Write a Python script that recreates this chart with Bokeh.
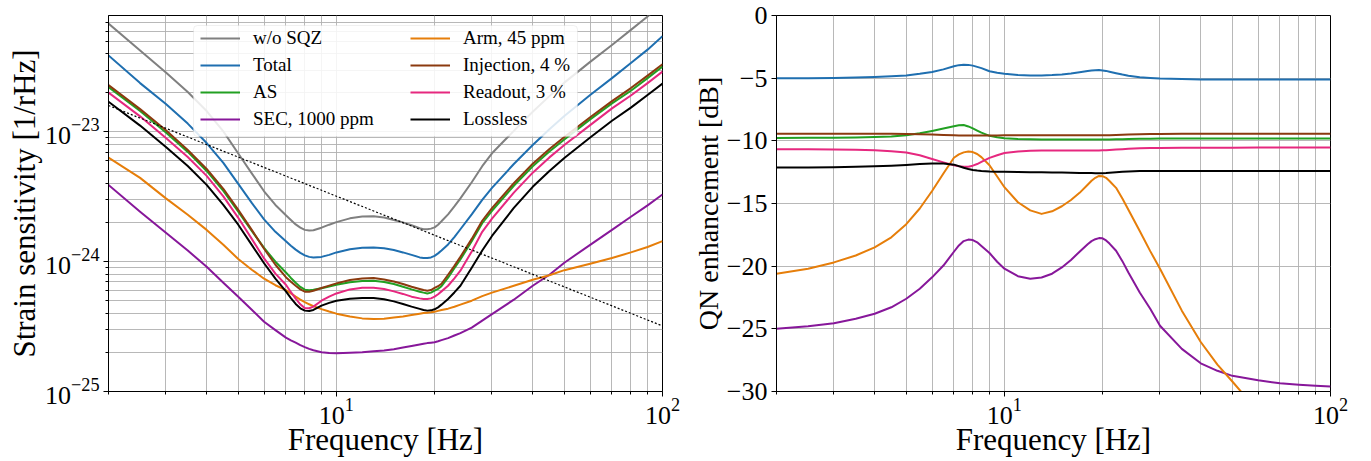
from bokeh.plotting import figure
from bokeh.models import (FixedTicker, LogTickFormatter, Legend, LegendItem,
                          BoxAnnotation, Range1d, CustomJSTickFormatter)
from bokeh.layouts import row
from bokeh.embed import file_html
from bokeh.resources import INLINE

nan = float("nan")
FONT = "Liberation Serif"

# ---------------- data ----------------
freq = [2, 2.5, 3, 3.5, 4, 4.5, 5, 5.5, 6, 6.5, 7,
        7.25, 7.5, 7.75, 8, 8.25, 8.5, 9, 9.5, 10,
        11, 12, 13, 14, 15, 16, 17, 18,
        18.5, 19, 19.5, 20, 20.5, 21, 22, 23, 24,
        26, 28, 30, 35, 40, 45, 50, 60, 70, 80, 90, 100]

# left panel: strain sensitivity [1/rHz]
wo_sqz = [6.84e-23, 4.24e-23, 2.87e-23, 2.03e-23, 1.45e-23, 1.01e-23, 6.83e-24, 4.80e-24, 3.49e-24, 2.74e-24, 2.28e-24,
          2.10e-24, 1.94e-24, 1.83e-24, 1.76e-24, 1.74e-24, 1.75e-24, 1.83e-24, 1.93e-24, 2.02e-24,
          2.16e-24, 2.23e-24, 2.24e-24, 2.19e-24, 2.10e-24, 2.01e-24, 1.91e-24, 1.81e-24,
          1.78e-24, 1.78e-24, 1.80e-24, 1.84e-24, 1.93e-24, 2.05e-24, 2.32e-24, 2.67e-24, 3.08e-24,
          4.10e-24, 5.45e-24, 6.85e-24, 1.02e-23, 1.43e-23, 1.89e-23, 2.40e-23, 3.47e-23, 4.68e-23, 6.12e-23, 7.75e-23, 9.84e-23]
total = [3.89e-23, 2.38e-23, 1.64e-23, 1.16e-23, 8.22e-24, 5.78e-24, 3.98e-24, 2.84e-24, 2.12e-24, 1.70e-24, 1.44e-24,
         1.33e-24, 1.24e-24, 1.17e-24, 1.12e-24, 1.09e-24, 1.08e-24, 1.09e-24, 1.13e-24, 1.18e-24,
         1.25e-24, 1.28e-24, 1.29e-24, 1.27e-24, 1.23e-24, 1.18e-24, 1.13e-24, 1.08e-24,
         1.07e-24, 1.07e-24, 1.08e-24, 1.11e-24, 1.16e-24, 1.22e-24, 1.36e-24, 1.55e-24, 1.78e-24,
         2.32e-24, 3.00e-24, 3.71e-24, 5.67e-24, 7.94e-24, 1.05e-23, 1.33e-23, 1.93e-23, 2.60e-23, 3.40e-23, 4.31e-23, 5.47e-23]
as_loss = [2.22e-23, 1.45e-23, 9.91e-24, 7.02e-24, 5.01e-24, 3.52e-24, 2.43e-24, 1.73e-24, 1.28e-24, 1.00e-24, 8.27e-25,
           7.50e-25, 6.89e-25, 6.40e-25, 6.09e-25, 6.03e-25, 6.09e-25, 6.25e-25, 6.45e-25, 6.65e-25,
           6.95e-25, 7.12e-25, 7.14e-25, 6.98e-25, 6.74e-25, 6.42e-25, 6.12e-25, 5.88e-25,
           5.78e-25, 5.70e-25, 5.78e-25, 5.98e-25, 6.18e-25, 6.48e-25, 7.53e-25, 8.90e-25, 1.04e-24,
           1.44e-24, 1.98e-24, 2.47e-24, 3.85e-24, 5.45e-24, 7.08e-24, 8.75e-24, 1.25e-23, 1.66e-23, 2.08e-23, 2.60e-23, 3.19e-23]
sec_loss = [3.91e-24, 2.43e-24, 1.67e-24, 1.22e-24, 9.15e-25, 6.89e-25, 5.38e-25, 4.27e-25, 3.45e-25, 2.97e-25, 2.60e-25,
            2.48e-25, 2.38e-25, 2.28e-25, 2.20e-25, 2.13e-25, 2.08e-25, 2.01e-25, 1.98e-25, 1.97e-25,
            1.99e-25, 2.01e-25, 2.04e-25, 2.07e-25, 2.12e-25, 2.18e-25, 2.24e-25, 2.30e-25,
            2.33e-25, 2.36e-25, 2.38e-25, 2.40e-25, 2.44e-25, 2.49e-25, 2.58e-25, 2.70e-25, 2.82e-25,
            3.11e-25, 3.52e-25, 3.95e-25, 5.10e-25, 6.53e-25, 7.94e-25, 9.83e-25, 1.35e-24, 1.76e-24, 2.22e-24, 2.72e-24, 3.30e-24]
arm_loss = [6.34e-24, 4.43e-24, 3.08e-24, 2.30e-24, 1.76e-24, 1.35e-24, 1.05e-24, 8.68e-25, 7.40e-25, 6.59e-25, 6.04e-25,
            5.70e-25, 5.38e-25, 5.11e-25, 4.88e-25, 4.70e-25, 4.55e-25, 4.31e-25, 4.13e-25, 3.98e-25,
            3.78e-25, 3.66e-25, 3.62e-25, 3.64e-25, 3.71e-25, 3.78e-25, 3.88e-25, 3.98e-25,
            4.02e-25, 4.05e-25, 4.08e-25, 4.12e-25, 4.18e-25, 4.24e-25, 4.35e-25, 4.50e-25, 4.67e-25,
            5.01e-25, 5.43e-25, 5.78e-25, 6.53e-25, 7.27e-25, 7.87e-25, 8.61e-25, 9.66e-25, 1.07e-24, 1.18e-24, 1.30e-24, 1.44e-24]
injection = [2.30e-23, 1.50e-23, 1.03e-23, 7.27e-24, 5.19e-24, 3.65e-24, 2.51e-24, 1.76e-24, 1.26e-24, 9.48e-25, 7.60e-25,
             7.02e-25, 6.53e-25, 6.12e-25, 5.88e-25, 5.88e-25, 5.98e-25, 6.28e-25, 6.55e-25, 6.81e-25,
             7.23e-25, 7.44e-25, 7.50e-25, 7.31e-25, 7.05e-25, 6.74e-25, 6.42e-25, 6.17e-25,
             6.05e-25, 5.98e-25, 6.05e-25, 6.28e-25, 6.48e-25, 6.77e-25, 7.94e-25, 9.30e-25, 1.09e-24,
             1.50e-24, 2.07e-24, 2.59e-24, 4.03e-24, 5.70e-24, 7.40e-24, 9.16e-24, 1.30e-23, 1.73e-23, 2.18e-23, 2.72e-23, 3.33e-23]
readout = [2.01e-23, 1.32e-23, 8.99e-24, 6.42e-24, 4.59e-24, 3.19e-24, 2.18e-24, 1.50e-24, 1.06e-24, 8.09e-25, 6.65e-25,
           5.85e-25, 5.19e-25, 4.70e-25, 4.39e-25, 4.38e-25, 4.51e-25, 5.01e-25, 5.38e-25, 5.70e-25,
           6.12e-25, 6.31e-25, 6.31e-25, 6.17e-25, 5.91e-25, 5.65e-25, 5.38e-25, 5.22e-25,
           5.17e-25, 5.16e-25, 5.22e-25, 5.38e-25, 5.62e-25, 5.91e-25, 6.53e-25, 7.45e-25, 8.53e-25,
           1.20e-24, 1.70e-24, 2.15e-24, 3.41e-24, 4.86e-24, 6.37e-24, 7.94e-24, 1.13e-23, 1.52e-23, 1.91e-23, 2.38e-23, 2.92e-23]
lossless = [1.71e-23, 1.12e-23, 7.67e-24, 5.47e-24, 3.91e-24, 2.74e-24, 1.93e-24, 1.35e-24, 9.73e-25, 7.40e-25, 5.91e-25,
            5.25e-25, 4.73e-25, 4.38e-25, 4.20e-25, 4.17e-25, 4.25e-25, 4.59e-25, 4.82e-25, 5.01e-25,
            5.19e-25, 5.26e-25, 5.26e-25, 5.13e-25, 4.95e-25, 4.73e-25, 4.51e-25, 4.33e-25,
            4.25e-25, 4.20e-25, 4.22e-25, 4.30e-25, 4.45e-25, 4.67e-25, 5.16e-25, 5.80e-25, 6.53e-25,
            9.00e-25, 1.22e-24, 1.58e-24, 2.60e-24, 3.78e-24, 5.01e-24, 6.31e-24, 9.07e-24, 1.22e-23, 1.54e-23, 1.93e-23, 2.36e-23]
sql_freq = [2, 100]
sql_line = [1.6e-23, 3.2e-25]

# right panel: QN enhancement [dB]
total_db = [-5.0, -5.0, -4.98, -4.95, -4.9, -4.85, -4.78, -4.65, -4.5, -4.3, -4.05,
            -3.96, -3.92, -3.94, -4.0, -4.1, -4.2, -4.45, -4.57, -4.65,
            -4.75, -4.78, -4.78, -4.75, -4.7, -4.62, -4.52, -4.42,
            -4.38, -4.36, -4.35, -4.38, -4.42, -4.48, -4.6, -4.71, -4.8,
            -4.92, -4.98, -5.03, -5.07, -5.1, -5.1, -5.1, -5.1, -5.1, -5.1, -5.1, -5.1]
as_db = [-9.77, -9.76, -9.75, -9.73, -9.7, -9.65, -9.55, -9.4, -9.21, -9.02, -8.83,
         -8.76, -8.74, -8.85, -9.0, -9.18, -9.35, -9.6, -9.72, -9.79,
         -9.86, -9.88, -9.89, -9.9, -9.9, -9.9, -9.9, -9.9,
         -9.9, -9.9, -9.9, -9.9, -9.9, -9.89, -9.88, -9.87, -9.85,
         -9.84, -9.83, -9.82, -9.82, -9.82, -9.82, -9.82, -9.82, -9.82, -9.82, -9.82, -9.82]
sec_db = [-25.0, -24.8, -24.55, -24.2, -23.8, -23.28, -22.6, -21.8, -20.89, -19.95, -18.85,
          -18.35, -18.0, -17.88, -17.92, -18.1, -18.4, -18.95, -19.65, -20.2,
          -20.8, -21.0, -20.9, -20.6, -20.1, -19.5, -18.85, -18.25,
          -18.0, -17.85, -17.76, -17.78, -17.95, -18.2, -18.77, -19.6, -20.5,
          -22.1, -23.4, -24.75, -26.6, -27.75, -28.35, -28.75, -29.1, -29.35, -29.47, -29.55, -29.6]
arm_db = [-20.6, -20.2, -19.7, -19.15, -18.5, -17.7, -16.65, -15.4, -14.0, -12.6, -11.35,
          -11.08, -10.92, -10.86, -10.9, -11.05, -11.3, -11.95, -12.85, -13.7,
          -14.9, -15.55, -15.83, -15.62, -15.22, -14.72, -14.15, -13.5,
          -13.18, -12.95, -12.8, -12.82, -12.95, -13.2, -13.75, -14.6, -15.5,
          -17.2, -18.8, -20.2, -23.55, -26.05, -27.85, -29.2, -31.6, nan, nan, nan, nan]
injection_db = [-9.43, -9.43, -9.43, -9.43, -9.43, -9.44, -9.45, -9.47, -9.5, -9.53, -9.56,
                -9.57, -9.58, -9.58, -9.58, -9.58, -9.58, -9.57, -9.565, -9.56,
                -9.56, -9.55, -9.55, -9.55, -9.55, -9.55, -9.56, -9.56,
                -9.56, -9.56, -9.56, -9.56, -9.555, -9.55, -9.53, -9.52, -9.5,
                -9.48, -9.46, -9.45, -9.44, -9.43, -9.43, -9.43, -9.43, -9.43, -9.43, -9.43, -9.43]
readout_db = [-10.67, -10.68, -10.7, -10.72, -10.76, -10.83, -10.93, -11.15, -11.45, -11.72, -11.95,
              -12.02, -12.06, -12.06, -11.98, -11.85, -11.68, -11.36, -11.15, -10.97,
              -10.85, -10.8, -10.78, -10.78, -10.78, -10.78, -10.78, -10.78,
              -10.78, -10.78, -10.77, -10.76, -10.75, -10.73, -10.7, -10.67, -10.64,
              -10.6, -10.58, -10.57, -10.56, -10.55, -10.55, -10.55, -10.54, -10.54, -10.54, -10.54, -10.54]
lossless_db = [-12.13, -12.12, -12.1, -12.07, -12.03, -11.98, -11.92, -11.85, -11.8, -11.8, -11.9,
               -12.02, -12.15, -12.25, -12.32, -12.37, -12.4, -12.44, -12.46, -12.47,
               -12.49, -12.5, -12.51, -12.52, -12.53, -12.55, -12.56, -12.57,
               -12.575, -12.58, -12.58, -12.58, -12.57, -12.55, -12.5, -12.47, -12.44,
               -12.41, -12.4, -12.4, -12.4, -12.4, -12.4, -12.4, -12.4, -12.4, -12.4, -12.4, -12.4]

labels = ["w/o SQZ", "Total", "AS", "SEC, 1000 ppm",
          "Arm, 45 ppm", "Injection, 4 %", "Readout, 3 %", "Lossless"]
colors = {"w/o SQZ": "#808080", "Total": "#1f6fb0", "AS": "#22a022", "SEC, 1000 ppm": "#87179a",
          "Arm, 45 ppm": "#e67e0a", "Injection, 4 %": "#8b3a0f", "Readout, 3 %": "#e6287f",
          "Lossless": "#000000"}

GRID = "#b0b0b0"
LW = 2


def style(p, y_minor=True, ylab_standoff=2, ylab_size="31px"):
    p.outline_line_color = "black"
    p.outline_line_width = 1
    p.background_fill_color = "white"
    p.border_fill_color = "white"
    for ax in (p.xaxis[0], p.yaxis[0]):
        ax.axis_line_color = "black"
        ax.major_tick_line_color = "black"
        ax.minor_tick_line_color = "black"
        ax.major_tick_out = 5
        ax.major_tick_in = 0
        ax.minor_tick_out = 3
        ax.minor_tick_in = 0
        ax.major_label_text_font = FONT
        ax.major_label_text_font_size = "26px"
        ax.major_label_text_color = "black"
        ax.axis_label_text_font = FONT
        ax.axis_label_text_font_size = "31px"
        ax.axis_label_text_font_style = "normal"
        ax.axis_label_text_color = "black"
    p.yaxis.axis_label_text_font_size = ylab_size
    p.xaxis.major_label_standoff = 2
    p.xaxis.axis_label_standoff = -5
    p.yaxis.major_label_standoff = 4
    p.yaxis.axis_label_standoff = ylab_standoff
    p.xgrid.grid_line_color = GRID
    p.xgrid.grid_line_width = 0.9
    p.xgrid.minor_grid_line_color = GRID
    p.xgrid.minor_grid_line_width = 0.9
    p.ygrid.grid_line_color = GRID
    p.ygrid.grid_line_width = 0.9
    if y_minor:
        p.ygrid.minor_grid_line_color = GRID
        p.ygrid.minor_grid_line_width = 0.9


x_major = [10, 100]
x_minor = [m * 10 ** e for e in (0, 1) for m in range(2, 10)]

# ---------------- left figure ----------------
p1 = figure(x_axis_type="log", y_axis_type="log",
            x_range=Range1d(2, 100), y_range=Range1d(1e-25, 7.9e-23),
            frame_width=554, frame_height=376,
            min_border_left=108, min_border_right=27, min_border_top=15, min_border_bottom=62,
            output_backend="svg", toolbar_location=None)
xt1 = FixedTicker(ticks=x_major, minor_ticks=x_minor)
p1.xaxis.ticker = xt1
p1.xgrid.ticker = xt1
p1.xaxis.formatter = LogTickFormatter()
y_minor1 = [m * 10.0 ** e for e in (-25, -24, -23) for m in range(2, 10) if m * 10.0 ** e < 7.9e-23]
yt1 = FixedTicker(ticks=[1e-25, 1e-24, 1e-23], minor_ticks=y_minor1)
p1.yaxis.ticker = yt1
p1.ygrid.ticker = yt1
p1.yaxis.formatter = LogTickFormatter()
p1.xaxis.axis_label = "Frequency [Hz]"
p1.yaxis.axis_label = "Strain sensitivity [1/rHz]"
style(p1, y_minor=True, ylab_standoff=0, ylab_size="31px")

series_left = {"w/o SQZ": wo_sqz, "Total": total, "AS": as_loss, "SEC, 1000 ppm": sec_loss,
               "Arm, 45 ppm": arm_loss, "Injection, 4 %": injection, "Readout, 3 %": readout,
               "Lossless": lossless}
rends = {}
for lab in labels:
    rends[lab] = p1.line(freq, series_left[lab], line_color=colors[lab], line_width=LW,
                         line_join="round")
p1.line(sql_freq, sql_line, line_color="black", line_width=1.2, line_dash="2 2")

# legend frame + two legend columns
box = BoxAnnotation(left=85, right=469, bottom=255, top=366,
                    left_units="screen", right_units="screen",
                    bottom_units="screen", top_units="screen",
                    fill_color="white", fill_alpha=0.85,
                    line_color="#cccccc", line_width=1, border_radius=4)
p1.add_layout(box)


def make_legend(items, loc):
    leg = Legend(items=items, location=loc)
    leg.orientation = "vertical"
    leg.padding = 0
    leg.margin = 0
    leg.spacing = 5
    leg.glyph_width = 40
    leg.glyph_height = 20
    leg.label_height = 20
    leg.label_standoff = 13
    leg.label_text_font = FONT
    leg.label_text_font_size = "19px"
    leg.label_text_font_style = "normal"
    leg.label_text_color = "black"
    leg.border_line_color = None
    leg.background_fill_alpha = 0
    return leg


legA = make_legend([LegendItem(label=l, renderers=[rends[l]]) for l in labels[:4]], (92, 261))
legB = make_legend([LegendItem(label=l, renderers=[rends[l]]) for l in labels[4:]], (302, 261))
p1.add_layout(legA)
p1.add_layout(legB)

# ---------------- right figure ----------------
p2 = figure(x_axis_type="log",
            x_range=Range1d(2, 100), y_range=Range1d(-30, 0),
            frame_width=554, frame_height=376,
            min_border_left=85, min_border_right=35, min_border_top=15, min_border_bottom=62,
            output_backend="svg", toolbar_location=None)
xt2 = FixedTicker(ticks=x_major, minor_ticks=x_minor)
p2.xaxis.ticker = xt2
p2.xgrid.ticker = xt2
p2.xaxis.formatter = LogTickFormatter()
yt2 = FixedTicker(ticks=[-30, -25, -20, -15, -10, -5, 0], minor_ticks=[])
p2.yaxis.ticker = yt2
p2.ygrid.ticker = yt2
p2.yaxis.formatter = CustomJSTickFormatter(
    code="return tick < 0 ? '\\u2212' + Math.abs(tick) : String(tick);")
p2.xaxis.axis_label = "Frequency [Hz]"
p2.yaxis.axis_label = "QN enhancement [dB]"
style(p2, y_minor=False, ylab_standoff=0, ylab_size="28px")
p2.yaxis.minor_tick_line_color = None

series_right = {"Total": total_db, "AS": as_db, "SEC, 1000 ppm": sec_db, "Arm, 45 ppm": arm_db,
                "Injection, 4 %": injection_db, "Readout, 3 %": readout_db, "Lossless": lossless_db}
for lab in labels[1:]:
    p2.line(freq, series_right[lab], line_color=colors[lab], line_width=LW, line_join="round")

layout = row(p1, p2)
open("out.html", "w").write(file_html(layout, INLINE))
